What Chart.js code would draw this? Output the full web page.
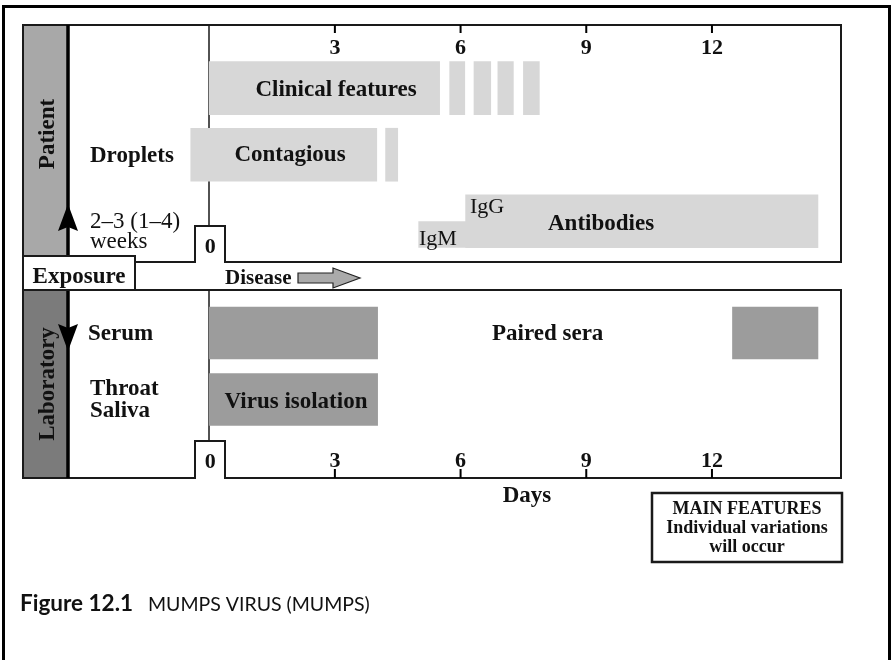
<!DOCTYPE html>
<html>
<head>
<meta charset="utf-8">
<script src="https://cdn.jsdelivr.net/npm/chart.js@4.4.1/dist/chart.umd.min.js"></script>
<style>
  html, body { margin: 0; padding: 0; background: #fff; }
  canvas { display: block; }
</style>
</head>
<body>
<canvas id="myChart" width="893" height="660"></canvas>
<script>
// days after onset on x, one lane per feature on y
const dayTicks = [3, 6, 9, 12];
const lanes = { clinical: 1, contagious: 2, antibodies: 3, igm: 3.2, serum: 4.68, virus: 5.68 };

const clinicalSpans = [[0, 5.5], [5.74, 6.1], [6.32, 6.72], [6.89, 7.26], [7.5, 7.88]];
const contagiousSpans = [[-0.44, 4.0], [4.21, 4.5]];
const antibodySpans = [[6.12, 14.53]];
const igmSpans = [[5.0, 6.2]];
const serumSpans = [[0, 4.02], [12.49, 14.53]];
const virusSpans = [[0, 4.02]];

const SERIF = '"Liberation Serif", "Times New Roman", serif';
const INK = "#111";

const toBars = (spans, lane) => spans.map((s) => ({ x: s, y: lane }));

function text(ctx, str, x, y, opts) {
  opts = opts || {};
  ctx.font = (opts.weight || "bold") + " " + (opts.size || 23) + "px " + (opts.family || SERIF);
  ctx.textAlign = opts.align || "left";
  ctx.textBaseline = "alphabetic";
  ctx.fillStyle = opts.color || INK;
  ctx.fillText(str, x, y);
}

// panels, side strips, bumps around day 0
const frame = {
  id: "frame",
  beforeDatasetsDraw(chart) {
    const { ctx, chartArea: a, scales } = chart;
    const x0 = Math.round(scales.x.getPixelForValue(0));
    const stripL = 23, exR = 135, pBot = 262, lTop = 290;
    ctx.save();

    // outer page frame
    ctx.strokeStyle = "#000";
    ctx.lineWidth = 3;
    ctx.beginPath();
    ctx.moveTo(3.5, 662);
    ctx.lineTo(3.5, 6.5);
    ctx.lineTo(889.5, 6.5);
    ctx.lineTo(889.5, 662);
    ctx.stroke();

    // side strips
    ctx.fillStyle = "#a8a8a8";
    ctx.fillRect(stripL, a.top, a.left - stripL, 256 - a.top);
    ctx.fillStyle = "#7b7b7b";
    ctx.fillRect(stripL, lTop, a.left - stripL, a.bottom - lTop);

    ctx.strokeStyle = "#1a1a1a";
    ctx.lineWidth = 2;
    // patient panel
    ctx.beginPath();
    ctx.moveTo(exR, pBot);
    ctx.lineTo(x0 - 14, pBot);
    ctx.lineTo(x0 - 14, 226);
    ctx.lineTo(x0 + 16, 226);
    ctx.lineTo(x0 + 16, pBot);
    ctx.lineTo(a.right, pBot);
    ctx.lineTo(a.right, a.top);
    ctx.lineTo(stripL, a.top);
    ctx.lineTo(stripL, 256);
    ctx.stroke();
    // laboratory panel
    ctx.beginPath();
    ctx.moveTo(exR, lTop);
    ctx.lineTo(a.right, lTop);
    ctx.lineTo(a.right, a.bottom);
    ctx.lineTo(x0 + 16, a.bottom);
    ctx.lineTo(x0 + 16, 441);
    ctx.lineTo(x0 - 14, 441);
    ctx.lineTo(x0 - 14, a.bottom);
    ctx.lineTo(stripL, a.bottom);
    ctx.lineTo(stripL, lTop);
    ctx.stroke();

    // day 0 lines
    ctx.lineWidth = 1.5;
    ctx.beginPath();
    ctx.moveTo(x0, a.top);
    ctx.lineTo(x0, 226);
    ctx.moveTo(x0, lTop);
    ctx.lineTo(x0, 441);
    ctx.stroke();

    // strip edges (arrow shafts)
    ctx.lineWidth = 3.5;
    ctx.strokeStyle = "#000";
    ctx.beginPath();
    ctx.moveTo(a.left, a.top);
    ctx.lineTo(a.left, 256);
    ctx.moveTo(a.left, lTop);
    ctx.lineTo(a.left, a.bottom);
    ctx.stroke();

    // ticks top and bottom
    ctx.lineWidth = 2;
    dayTicks.forEach((t) => {
      const px = scales.x.getPixelForValue(t);
      ctx.beginPath();
      ctx.moveTo(px, a.top);
      ctx.lineTo(px, a.top + 8);
      ctx.moveTo(px, a.bottom);
      ctx.lineTo(px, a.bottom - 9);
      ctx.stroke();
    });
    ctx.restore();
  },
};

const labels = {
  id: "labels",
  afterDatasetsDraw(chart) {
    const { ctx, chartArea: a, scales } = chart;
    const x0 = scales.x.getPixelForValue(0);
    ctx.save();

    // arrowheads on strip edges
    ctx.fillStyle = "#000";
    ctx.beginPath();
    ctx.moveTo(a.left, 204);
    ctx.lineTo(a.left + 10, 231);
    ctx.lineTo(a.left, 227);
    ctx.lineTo(a.left - 10, 231);
    ctx.closePath();
    ctx.fill();
    ctx.beginPath();
    ctx.moveTo(a.left, 351);
    ctx.lineTo(a.left + 10, 324);
    ctx.lineTo(a.left, 328);
    ctx.lineTo(a.left - 10, 324);
    ctx.closePath();
    ctx.fill();

    // exposure box
    ctx.fillStyle = "#fff";
    ctx.strokeStyle = "#1a1a1a";
    ctx.lineWidth = 2;
    ctx.fillRect(23, 256, 112, 34);
    ctx.strokeRect(23, 256, 112, 34);
    text(ctx, "Exposure", 79, 283, { align: "center" });

    // disease arrow
    text(ctx, "Disease", 225, 284, { size: 21 });
    ctx.beginPath();
    ctx.moveTo(298, 273);
    ctx.lineTo(333, 273);
    ctx.lineTo(333, 268);
    ctx.lineTo(360, 278);
    ctx.lineTo(333, 288);
    ctx.lineTo(333, 283);
    ctx.lineTo(298, 283);
    ctx.closePath();
    ctx.fillStyle = "#aaaaaa";
    ctx.fill();
    ctx.lineWidth = 1.2;
    ctx.strokeStyle = "#222";
    ctx.stroke();

    // tick labels
    dayTicks.forEach((t) => {
      const px = scales.x.getPixelForValue(t);
      text(ctx, String(t), px, 54, { align: "center", size: 22 });
      text(ctx, String(t), px, 467, { align: "center", size: 22 });
    });
    text(ctx, "0", x0 + 1, 253, { align: "center", size: 22 });
    text(ctx, "0", x0 + 1, 468, { align: "center", size: 22 });
    text(ctx, "Days", 527, 502, { align: "center" });

    // rotated strip titles
    [["Patient", 134], ["Laboratory", 384]].forEach(([s, cy]) => {
      ctx.save();
      ctx.translate(46, cy);
      ctx.rotate(-Math.PI / 2);
      text(ctx, s, 0, 8, { align: "center" });
      ctx.restore();
    });

    // row and bar labels
    text(ctx, "Clinical features", 336, 96, { align: "center" });
    text(ctx, "Droplets", 90, 162);
    text(ctx, "Contagious", 290, 161, { align: "center" });
    text(ctx, "2\u20133 (1\u20134)", 90, 228, { weight: "normal" });
    text(ctx, "weeks", 90, 248, { weight: "normal" });
    text(ctx, "IgM", 419, 245, { weight: "normal", size: 22 });
    text(ctx, "IgG", 470, 213, { weight: "normal", size: 22 });
    text(ctx, "Antibodies", 548, 230);
    text(ctx, "Serum", 88, 340);
    text(ctx, "Paired sera", 492, 340);
    text(ctx, "Throat", 90, 395);
    text(ctx, "Saliva", 90, 417);
    text(ctx, "Virus isolation", 296, 408, { align: "center" });

    // main features box
    ctx.strokeStyle = "#1a1a1a";
    ctx.lineWidth = 2.5;
    ctx.strokeRect(652, 493, 190, 69);
    text(ctx, "MAIN FEATURES", 747, 514, { align: "center", size: 18 });
    text(ctx, "Individual variations", 747, 533, { align: "center", size: 18 });
    text(ctx, "will occur", 747, 552, { align: "center", size: 18 });

    // caption
    text(ctx, "Figure 12.1", 20, 611, { family: "Lato, sans-serif", size: 22.5 });
    text(ctx, "MUMPS VIRUS (MUMPS)", 148, 611, { family: "Lato, sans-serif", size: 19.5, weight: "normal" });
    ctx.restore();
  },
};

const ctx = document.getElementById("myChart").getContext("2d");
const myChart = new Chart(ctx, {
  type: "bar",
  data: {
    datasets: [
      {
        label: "Patient",
        data: [
          ...toBars(clinicalSpans, lanes.clinical),
          ...toBars(contagiousSpans, lanes.contagious),
          ...toBars(antibodySpans, lanes.antibodies),
        ],
        backgroundColor: "#d7d7d7",
        barThickness: 53,
      },
      {
        label: "IgM",
        data: toBars(igmSpans, lanes.igm),
        backgroundColor: "#d7d7d7",
        barThickness: 26,
      },
      {
        label: "Laboratory",
        data: [...toBars(serumSpans, lanes.serum), ...toBars(virusSpans, lanes.virus)],
        backgroundColor: "#9c9c9c",
        barThickness: 52,
      },
    ],
  },
  options: {
    indexAxis: "y",
    responsive: false,
    animation: false,
    devicePixelRatio: 1,
    layout: { padding: { left: 68, right: 52, top: 25, bottom: 182 } },
    datasets: { bar: { grouped: false, borderWidth: 0 } },
    scales: {
      x: { type: "linear", min: -3.37, max: 15.08, display: false },
      y: { type: "linear", min: 0.05, max: 6.86, reverse: true, offset: false, display: false },
    },
    plugins: { legend: { display: false }, tooltip: { enabled: false } },
  },
  plugins: [frame, labels],
});
</script>
</body>
</html>
